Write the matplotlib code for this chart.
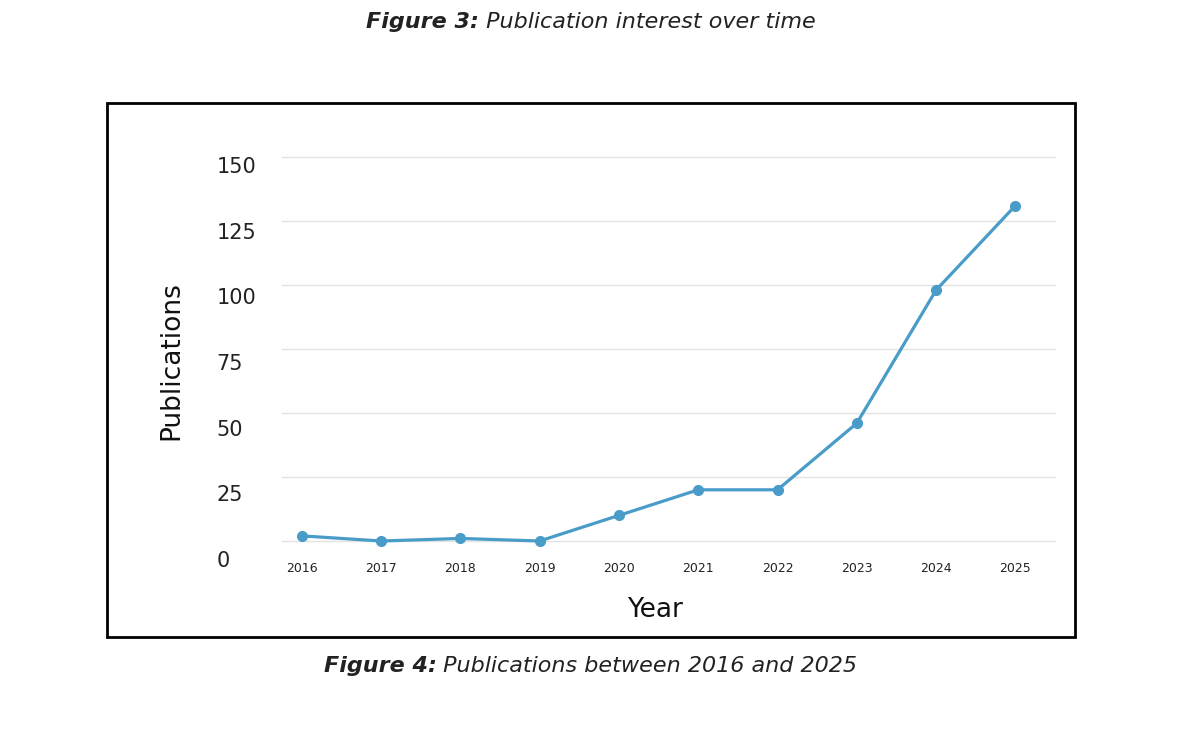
import numpy as np
import matplotlib
matplotlib.use("Agg")
import matplotlib.pyplot as plt
from matplotlib.patches import Rectangle
from matplotlib.transforms import ScaledTranslation

plt.rcParams['font.family'] = ['DejaVu Sans']

years = ['2016', '2017', '2018', '2019', '2020', '2021', '2022', '2023', '2024', '2025']
publications = [2, 0, 1, 0, 10, 20, 20, 46, 98, 131]
y_ticks = [0, 25, 50, 75, 100, 125, 150]

W, H = 1181, 744
fig = plt.figure(figsize=(W / 100, H / 100), dpi=100)

# axes placed where the gridlines are in the reference (pixel coords)
ax_l, ax_r, ax_t, ax_b = 282, 1055, 157, 541
ax = fig.add_axes([ax_l / W, (H - ax_b) / H, (ax_r - ax_l) / W, (ax_b - ax_t) / H])

x = np.arange(len(years))
line_color = '#4a9cc8'
ax.plot(x, publications, color=line_color, lw=2.3, marker='o', markersize=7,
        solid_joinstyle='round', zorder=3, clip_on=False)

ax.set_xlim(-0.25, len(years) - 0.5)
ax.set_ylim(0, 150)
ax.set_yticks(y_ticks)
ax.set_yticklabels([str(t) for t in y_ticks], fontsize=15, color='#222222')
ax.set_xticks(x)
ax.set_xticklabels(years, fontsize=9, color='#222222')

ax.grid(axis='y', color='#e2e2e2', lw=1.0)
for gl in ax.get_ygridlines():
    gl.set_clip_on(False)
ax.set_axisbelow(True)
for s in ax.spines.values():
    s.set_visible(False)
ax.tick_params(axis='both', length=0)
ax.tick_params(axis='x', pad=15)
ax.tick_params(axis='y', pad=47)
# y labels sit a bit below their gridlines, more so lower down
for t, lab in zip(y_ticks, ax.get_yticklabels()):
    dy = 8 + (150 - t) / 150 * 10
    lab.set_horizontalalignment('left')
    lab.set_transform(lab.get_transform() + ScaledTranslation(0, -dy / 100, fig.dpi_scale_trans))

ax.set_ylabel('Publications', fontsize=19, color='#111111')
ax.yaxis.set_label_coords(-0.126, 0.47)
ax.set_xlabel('Year', fontsize=19, color='#111111')
ax.xaxis.set_label_coords(0.4825, -0.146)

# black frame around chart
fig.patches.append(Rectangle((107 / W, (H - 637) / H), (1075 - 107) / W, (637 - 103) / H,
                             transform=fig.transFigure, fill=False, edgecolor='black',
                             lw=2.0, zorder=10))


def caption(y_px, bold, rest):
    # bold italic prefix followed by italic text, centred on the figure
    t1 = fig.text(0, 1 - y_px / H, bold, fontsize=16, fontweight='bold', fontstyle='italic',
                  ha='left', va='center', color='#222222')
    t2 = fig.text(0, 1 - y_px / H, ' ' + rest, fontsize=16, fontstyle='italic',
                  ha='left', va='center', color='#222222')
    r = fig.canvas.get_renderer()
    w1 = t1.get_window_extent(r).width
    w2 = t2.get_window_extent(r).width
    x0 = (W - w1 - w2) / 2
    t1.set_x(x0 / W)
    t2.set_x((x0 + w1) / W)


caption(22, 'Figure 3:', 'Publication interest over time')
caption(666, 'Figure 4:', 'Publications between 2016 and 2025')

fig.savefig('out.png', dpi=100)
